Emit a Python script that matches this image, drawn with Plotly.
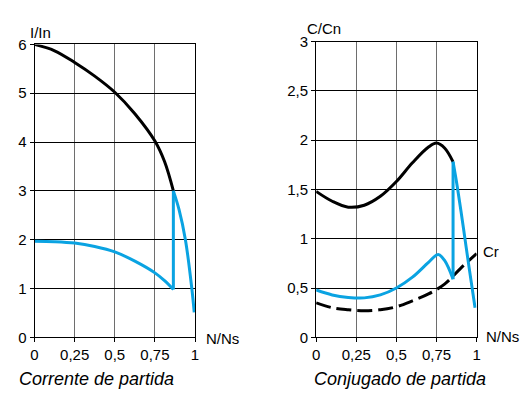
import plotly.graph_objects as go

W, H = 523, 397

# ---------------- data ----------------
# Left chart: Corrente de partida (I/In vs N/Ns)
left_black_x = [0, 0.125, 0.25, 0.375, 0.5, 0.625, 0.75, 0.81, 0.865]
left_black_y = [6.0, 5.87, 5.63, 5.35, 5.02, 4.58, 4.02, 3.6, 3.0]
left_blue_a_x = [0, 0.125, 0.25, 0.375, 0.5, 0.625, 0.75, 0.81, 0.865]
left_blue_a_y = [1.97, 1.96, 1.93, 1.86, 1.75, 1.56, 1.32, 1.16, 0.98]
left_jump_x = [0.865, 0.865]
left_jump_y = [0.98, 3.0]
left_blue_c_x = [0.865, 0.9, 0.94, 0.98, 0.995]
left_blue_c_y = [3.0, 2.62, 2.0, 1.0, 0.51]

# Right chart: Conjugado de partida (C/Cn vs N/Ns)
right_black_x = [0, 0.1, 0.2, 0.3, 0.4, 0.5, 0.6, 0.7, 0.75, 0.8, 0.853]
right_black_y = [1.48, 1.38, 1.32, 1.34, 1.43, 1.58, 1.77, 1.93, 1.97, 1.92, 1.78]
right_blue_a_x = [0, 0.1, 0.2, 0.3, 0.4, 0.5, 0.6, 0.7, 0.76, 0.8, 0.853]
right_blue_a_y = [0.48, 0.43, 0.405, 0.40, 0.43, 0.50, 0.61, 0.76, 0.84, 0.78, 0.59]
right_jump_x = [0.853, 0.853]
right_jump_y = [0.59, 1.78]
right_blue_c_x = [0.853, 0.88, 0.92, 0.95, 0.99]
right_blue_c_y = [1.78, 1.52, 1.08, 0.74, 0.30]
cr_x = [0, 0.1, 0.2, 0.3, 0.4, 0.5, 0.6, 0.7, 0.8, 0.9, 1.0]
cr_y = [0.35, 0.30, 0.28, 0.27, 0.28, 0.31, 0.37, 0.44, 0.54, 0.70, 0.85]

x_tickvals = [0, 0.25, 0.5, 0.75, 1]
x_ticktext = ["0", "0,25", "0,5", "0,75", "1"]
left_y_tickvals = [0, 1, 2, 3, 4, 5, 6]
left_y_ticktext = ["0", "1", "2", "3", "4", "5", "6"]
right_y_tickvals = [0, 0.5, 1, 1.5, 2, 2.5, 3]
right_y_ticktext = ["0", "0,5", "1", "1,5", "2", "2,5", "3"]

BLUE = "#0aa3e2"
FONT = "Liberation Sans, Arial, sans-serif"


def px(x):
    return x / W


def py(y):
    return 1 - y / H


fig = go.Figure()

# left
fig.add_trace(go.Scatter(x=left_black_x, y=left_black_y, mode="lines",
                         line=dict(color="black", width=3, shape="spline"),
                         xaxis="x", yaxis="y"))
fig.add_trace(go.Scatter(x=left_blue_a_x, y=left_blue_a_y, mode="lines",
                         line=dict(color=BLUE, width=3, shape="spline"),
                         xaxis="x", yaxis="y"))
fig.add_trace(go.Scatter(x=left_jump_x, y=left_jump_y, mode="lines",
                         line=dict(color=BLUE, width=3),
                         xaxis="x", yaxis="y"))
fig.add_trace(go.Scatter(x=left_blue_c_x, y=left_blue_c_y, mode="lines",
                         line=dict(color=BLUE, width=3, shape="spline"),
                         xaxis="x", yaxis="y"))

# right
fig.add_trace(go.Scatter(x=cr_x, y=cr_y, mode="lines",
                         line=dict(color="black", width=3, shape="spline", dash="15px,6px"),
                         xaxis="x2", yaxis="y2"))
fig.add_trace(go.Scatter(x=right_black_x, y=right_black_y, mode="lines",
                         line=dict(color="black", width=3, shape="spline"),
                         xaxis="x2", yaxis="y2"))
fig.add_trace(go.Scatter(x=right_blue_a_x, y=right_blue_a_y, mode="lines",
                         line=dict(color=BLUE, width=3, shape="spline"),
                         xaxis="x2", yaxis="y2"))
fig.add_trace(go.Scatter(x=right_jump_x, y=right_jump_y, mode="lines",
                         line=dict(color=BLUE, width=3),
                         xaxis="x2", yaxis="y2"))
fig.add_trace(go.Scatter(x=right_blue_c_x, y=right_blue_c_y, mode="lines",
                         line=dict(color=BLUE, width=3, shape="spline"),
                         xaxis="x2", yaxis="y2"))

xcommon = dict(range=[0, 1], tickvals=x_tickvals, ticktext=x_ticktext,
               showgrid=True, gridcolor="#6e6e6e", gridwidth=1,
               showline=True, linecolor="black", linewidth=1, mirror=True,
               ticks="outside", ticklen=4, tickcolor="black",
               tickfont=dict(family=FONT, size=15, color="black"),
               zeroline=False, fixedrange=True)
ycommon = dict(showgrid=True, gridcolor="black", gridwidth=1,
               showline=True, linecolor="black", linewidth=1, mirror=True,
               ticks="outside", ticklen=4, tickcolor="black",
               tickfont=dict(family=FONT, size=15, color="black"),
               zeroline=False, fixedrange=True)

fig.update_layout(
    width=W, height=H,
    margin=dict(l=0, r=0, t=0, b=0),
    paper_bgcolor="white", plot_bgcolor="white",
    showlegend=False,
    xaxis=dict(domain=[px(31), px(194)], anchor="y", **xcommon),
    yaxis=dict(domain=[py(343), py(37)], anchor="x", range=[0, 6],
               tickvals=left_y_tickvals, ticktext=left_y_ticktext, **ycommon),
    xaxis2=dict(domain=[px(317), px(480)], anchor="y2", **xcommon),
    yaxis2=dict(domain=[py(343), py(34)], anchor="x2", range=[0, 3],
                tickvals=right_y_tickvals, ticktext=right_y_ticktext, **ycommon),
)

ann = [
    ("I/In", 37, 25, 15, False),
    ("C/Cn", 325, 20, 15, False),
    ("N/Ns", 222, 344, 15, False),
    ("N/Ns", 506, 342, 15, False),
    ("Cr", 495, 253, 15, False),
    ("Corrente de partida", 94, 387, 18, True),
    ("Conjugado de partida", 402, 387, 18, True),
]
for text, x, y, size, italic in ann:
    t = f"<i>{text}</i>" if italic else text
    fig.add_annotation(text=t, x=px(x), y=py(y), xref="paper", yref="paper",
                       xanchor="center", yanchor="middle", showarrow=False,
                       font=dict(family=FONT, size=size, color="black"))

fig.write_html("out.html")
